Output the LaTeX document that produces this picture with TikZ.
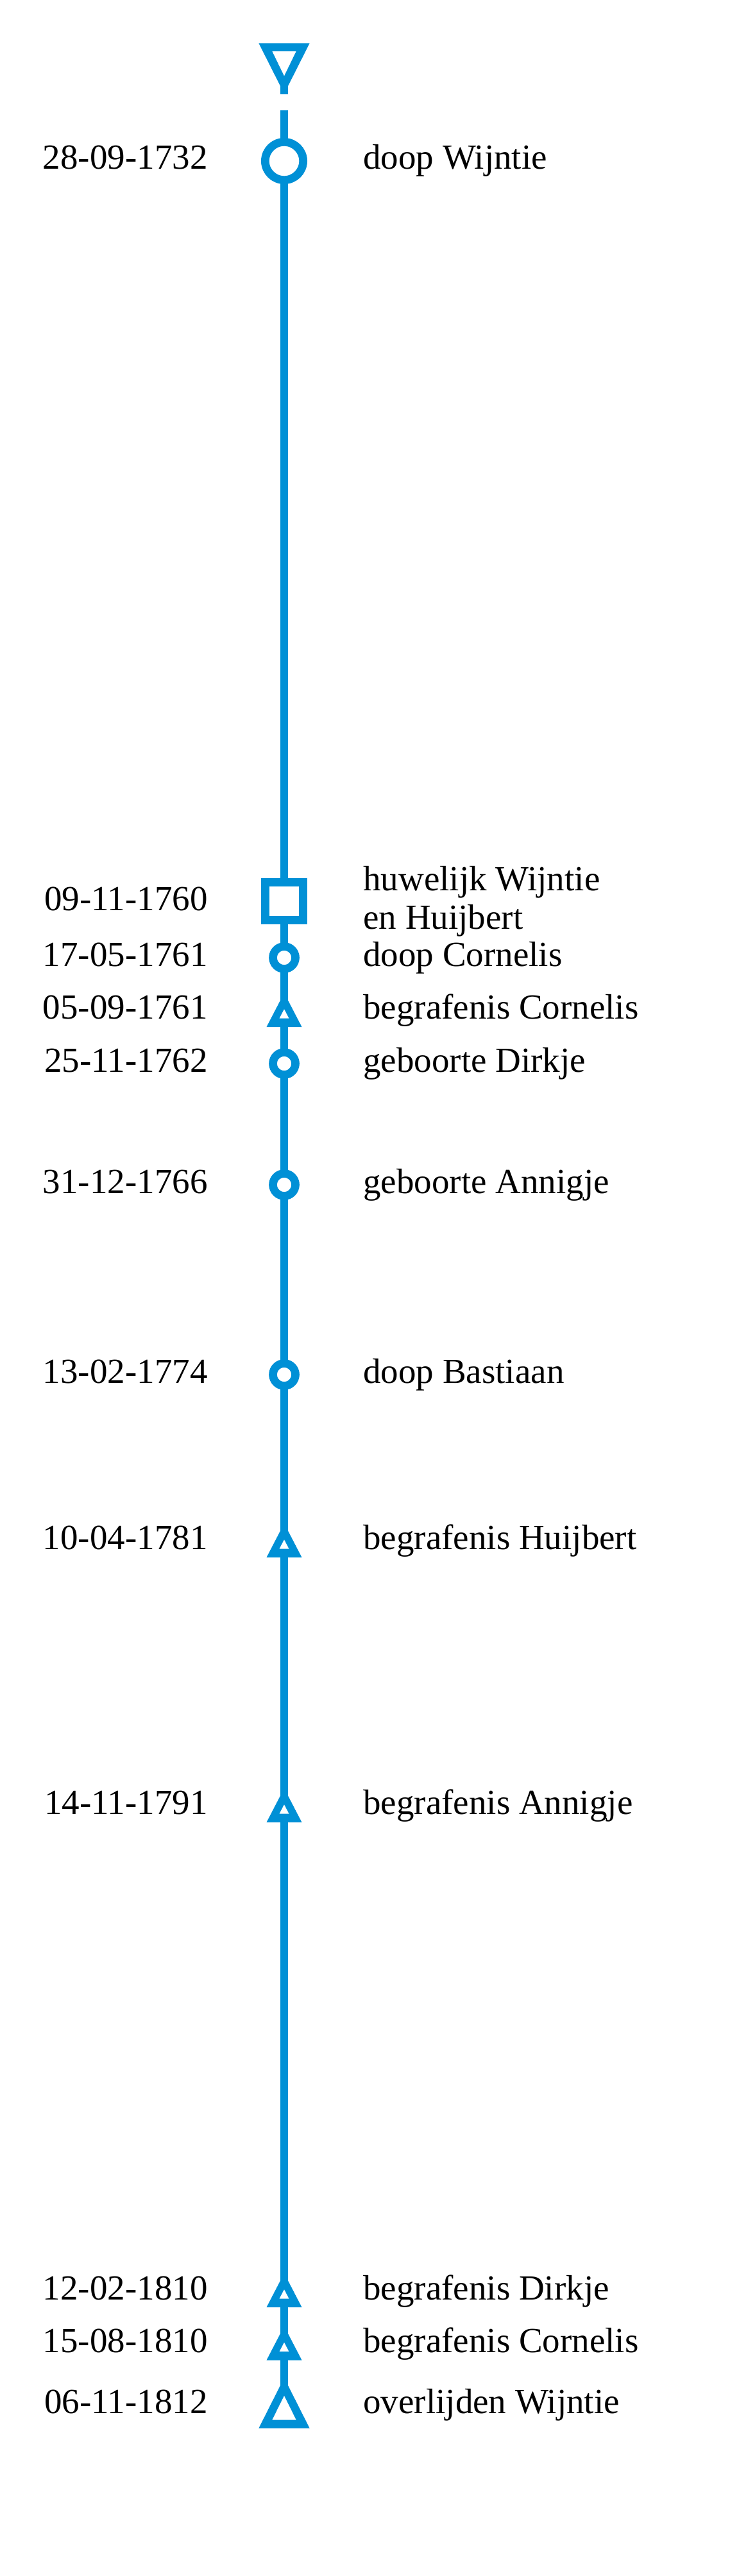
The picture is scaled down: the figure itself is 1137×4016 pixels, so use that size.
\documentclass[tikz,border=0pt]{standalone}
\usepackage{fontspec}
\setmainfont{Liberation Serif}
\definecolor{tlblue}{HTML}{0090D6}
\newcommand\mksmalltri[2]{%
  \coordinate (#1) at (443,#2-26);
  \fill[tlblue] (415.5,#2) -- (443,#2-53) -- (470.5,#2) -- cycle;
  \fill[white] (435.5,#2-13.3) -- (443,#2-27.7) -- (450.5,#2-13.3) -- cycle;}
\begin{document}
\begin{tikzpicture}[x=0.5pt,y=-0.5pt,
  tl/.style={draw=tlblue,line width=6.35pt},
  lblfont/.style={inner sep=0pt,font=\fontsize{27.5}{30}\selectfont},
  datelbl/.style={lblfont,anchor=base east},
  evtlbl/.style={lblfont,anchor=base west,align=left},
  bigring/.style={circle,draw=tlblue,fill=white,line width=6.35pt,inner sep=0pt,minimum size=29.65pt},
  smallring/.style={circle,draw=tlblue,fill=white,line width=6.35pt,inner sep=0pt,minimum size=17.5pt},
  sqmark/.style={rectangle,draw=tlblue,fill=white,line width=6.35pt,inner sep=0pt,minimum size=29.65pt}]
\useasboundingbox (0,0) rectangle (1137,4016);
% timeline
\coordinate (stubtop) at (443,128);
\coordinate (stubend) at (443,146.7);
\coordinate (lstart) at (443,171.7);
\coordinate (e12) at (443,3750);
\draw[tl] (stubtop) -- (stubend);
\draw[tl] (lstart) -- (e12);
% top marker (inverted triangle)
\coordinate (e0) at (443,100);
\fill[tlblue] (403.3,67.3) -- (482.7,67.3) -- (443,146) -- cycle;
\fill[white] (424.4,80) -- (461.6,80) -- (443,118.3) -- cycle;
% markers
\node[bigring] (e1) at (443,251) {};
\node[sqmark] (e2) at (443,1405) {};
\node[smallring] (e3) at (443,1493) {};
\mksmalltri{e4}{1601}
\node[smallring] (e5) at (443,1658) {};
\node[smallring] (e6) at (443,1847) {};
\node[smallring] (e7) at (443,2143) {};
\mksmalltri{e8}{2428}
\mksmalltri{e9}{2841}
\mksmalltri{e10}{3597}
\mksmalltri{e11}{3679.5}
% bottom marker (big triangle)
\fill[tlblue] (403.3,3785.7) -- (443,3707) -- (482.7,3785.7) -- cycle;
\fill[white] (424.3,3772.7) -- (443,3735) -- (461.7,3772.7) -- cycle;
% labels
\node[datelbl] (d1) at (324,263) {28-09-1732};
\node[evtlbl] (t1) at (566,263) {doop Wijntie};
\node[datelbl] (d2) at (324,1419) {09-11-1760};
\node[evtlbl] (t2) at (566,1388) {huwelijk Wijntie};
\node[evtlbl] (t2b) at (566,1448) {en Huijbert};
\node[datelbl] (d3) at (324,1506) {17-05-1761};
\node[evtlbl] (t3) at (566,1506) {doop Cornelis};
\node[datelbl] (d4) at (324,1588) {05-09-1761};
\node[evtlbl] (t4) at (566,1588) {begrafenis Cornelis};
\node[datelbl] (d5) at (324,1671) {25-11-1762};
\node[evtlbl] (t5) at (566,1671) {geboorte Dirkje};
\node[datelbl] (d6) at (324,1860) {31-12-1766};
\node[evtlbl] (t6) at (566,1860) {geboorte Annigje};
\node[datelbl] (d7) at (324,2156) {13-02-1774};
\node[evtlbl] (t7) at (566,2156) {doop Bastiaan};
\node[datelbl] (d8) at (324,2415) {10-04-1781};
\node[evtlbl] (t8) at (566,2415) {begrafenis Huijbert};
\node[datelbl] (d9) at (324,2828) {14-11-1791};
\node[evtlbl] (t9) at (566,2828) {begrafenis Annigje};
\node[datelbl] (d10) at (324,3585) {12-02-1810};
\node[evtlbl] (t10) at (566,3585) {begrafenis Dirkje};
\node[datelbl] (d11) at (324,3667) {15-08-1810};
\node[evtlbl] (t11) at (566,3667) {begrafenis Cornelis};
\node[datelbl] (d12) at (324,3762) {06-11-1812};
\node[evtlbl] (t12) at (566,3762) {overlijden Wijntie};
\end{tikzpicture}
\end{document}
